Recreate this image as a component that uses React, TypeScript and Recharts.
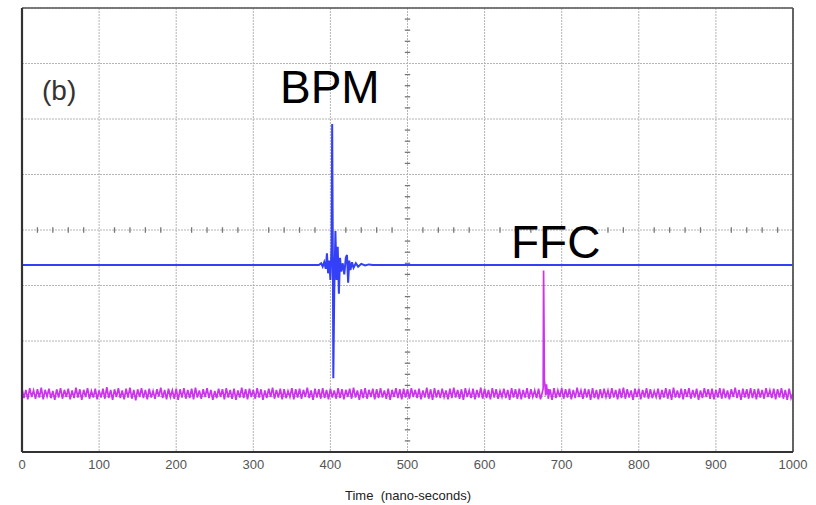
import {
  LineChart,
  Line,
  XAxis,
  YAxis,
  CartesianGrid,
  ReferenceLine,
} from "recharts";

// x axis in nano-seconds, y axis in screen divisions (-4..4)
const xTicks = [0, 100, 200, 300, 400, 500, 600, 700, 800, 900, 1000];
const yTicks = [-4, -3, -2, -1, 0, 1, 2, 3, 4];

// minor marks on the centre cross
const minorX = [
  20, 40, 60, 80, 120, 140, 160, 180, 220, 240, 260, 280, 320, 340, 360, 380,
  420, 440, 460, 480, 520, 540, 560, 580, 620, 640, 660, 680, 720, 740, 760,
  780, 820, 840, 860, 880, 920, 940, 960, 980,
];
const minorY = [
  -3.8, -3.6, -3.4, -3.2, -2.8, -2.6, -2.4, -2.2, -1.8, -1.6, -1.4, -1.2, -0.8,
  -0.6, -0.4, -0.2, 0.2, 0.4, 0.6, 0.8, 1.2, 1.4, 1.6, 1.8, 2.2, 2.4, 2.6, 2.8,
  3.2, 3.4, 3.6, 3.8,
];

// BPM trace (blue): flat with a ringing burst near 400 ns
const bpmTime = [
  0, 385, 388, 390, 392, 394, 395.5, 397, 398.5, 400, 401.5, 402.3, 403.2,
  403.8, 405, 406.5, 408, 409.5, 411, 412.5, 414, 416, 418, 420, 421.5, 423,
  424.5, 426, 428, 430, 433, 436, 440, 445, 450, 455, 1000,
];
const bpmValue = [
  -0.63, -0.63, -0.6, -0.66, -0.58, -0.7, -0.42, -0.78, -0.55, -0.9, -0.3,
  1.91, -0.5, -2.67, -1.1, -0.02, -0.9, -0.3, -1.15, -0.5, -0.75, -0.6, -0.8,
  -0.5, -0.45, -0.95, -0.55, -0.72, -0.58, -0.68, -0.6, -0.66, -0.61, -0.64,
  -0.62, -0.63, -0.63,
];

// FFC trace (magenta): noisy floor sampled every 2.5 ns
const ffcStep = 2.5;
const ffcNoise = [
  -2.86, -3.03, -2.88, -3.05, -2.85, -3.01, -2.89, -3.04, -2.87, -3.02, -2.84, -3.05, -2.88, -3.0, -2.86, -3.03, -2.9, -3.06, -2.87, -3.02,
  -2.85, -3.04, -2.88, -3.01, -2.86, -3.05, -2.89, -3.03, -2.84, -3.02, -2.87, -3.06, -2.88, -3.01, -2.85, -3.04, -2.9, -3.02, -2.86, -3.05,
  -2.89, -3.02, -2.86, -3.04, -2.83, -3.03, -2.88, -3.06, -2.87, -3.01, -2.85, -3.03, -2.89, -3.05, -2.86, -3.02, -2.84, -3.04, -2.88, -3.07,
  -2.87, -3.01, -2.85, -3.03, -2.88, -3.05, -2.86, -3.02, -2.9, -3.04, -2.87, -3.0, -2.84, -3.03, -2.88, -3.05, -2.86, -3.01, -2.89, -3.04,
  -2.86, -3.06, -2.87, -3.02, -2.85, -3.04, -2.88, -3.03, -2.86, -3.05, -2.84, -3.02, -2.89, -3.04, -2.87, -3.01, -2.85, -3.03, -2.88, -3.06,
  -2.9, -3.03, -2.86, -3.01, -2.87, -3.05, -2.85, -3.02, -2.88, -3.04, -2.86, -3.06, -2.89, -3.02, -2.84, -3.03, -2.87, -3.05, -2.86, -3.01,
  -2.88, -3.04, -2.85, -3.02, -2.87, -3.06, -2.89, -3.03, -2.86, -3.01, -2.84, -3.04, -2.88, -3.02, -2.86, -3.05, -2.87, -3.03, -2.9, -3.01,
  -2.85, -3.05, -2.87, -3.02, -2.86, -3.04, -2.88, -3.01, -2.84, -3.03, -2.89, -3.06, -2.86, -3.02, -2.87, -3.04, -2.85, -3.03, -2.88, -3.05,
  -2.86, -3.02, -2.89, -3.04, -2.85, -3.03, -2.87, -3.05, -2.88, -3.01, -2.86, -3.04, -2.84, -3.02, -2.89, -3.06, -2.87, -3.03, -2.85, -3.04,
  -2.88, -3.01, -2.86, -3.05, -2.87, -3.03, -2.85, -3.02, -2.89, -3.04, -2.86, -3.06, -2.88, -3.01, -2.85, -3.03, -2.87, -3.05, -2.86, -3.02,
  -2.87, -3.04, -2.85, -3.01, -2.88, -3.03, -2.86, -3.05, -2.89, -3.02, -2.84, -3.04, -2.87, -3.06, -2.85, -3.02, -2.88, -3.03, -2.86, -3.01,
  -2.89, -3.05, -2.86, -3.03, -2.84, -3.02, -2.88, -3.04, -2.87, -3.06, -2.85, -3.01, -2.89, -3.03, -2.86, -3.05, -2.88, -3.02, -2.84, -3.04,
  -2.86, -3.03, -2.88, -3.05, -2.85, -3.02, -2.87, -3.04, -2.9, -3.01, -2.86, -3.03, -2.88, -3.06, -2.85, -3.02, -2.87, -3.04, -2.86, -3.05,
  -2.88, -3.02, -2.85, -3.04, -2.87, -3.01, -2.89, -3.03, -2.86, -3.05, -2.84, -3.02, -2.88, -3.04, -2.87, -3.06, -2.85, -3.03, -2.89, -3.01,
  -2.85, -3.04, -2.87, -3.02, -2.86, -3.05, -2.88, -3.03, -2.84, -3.01, -2.89, -3.04, -2.86, -3.02, -2.87, -3.06, -2.85, -3.03, -2.88, -3.05,
  -2.87, -3.03, -2.86, -3.01, -2.89, -3.04, -2.85, -3.02, -2.88, -3.05, -2.86, -3.03, -2.84, -3.04, -2.87, -3.02, -2.89, -3.06, -2.86, -3.01,
  -2.86, -3.05, -2.88, -3.02, -2.85, -3.04, -2.87, -3.03, -2.9, -3.01, -2.86, -3.05, -2.88, -3.02, -2.85, -3.04, -2.87, -3.06, -2.84, -3.02,
  -2.89, -3.03, -2.86, -3.05, -2.87, -3.01, -2.85, -3.04, -2.88, -3.02, -2.86, -3.06, -2.89, -3.03, -2.85, -3.01, -2.87, -3.04, -2.86, -3.05,
  -2.88, -3.02, -2.85, -3.04, -2.86, -3.03, -2.89, -3.05, -2.87, -3.01, -2.84, -3.03, -2.88, -3.06, -2.86, -3.02, -2.87, -3.04, -2.85, -3.03,
  -2.87, -3.05, -2.86, -3.02, -2.88, -3.04, -2.85, -3.01, -2.89, -3.03, -2.86, -3.05, -2.87, -3.02, -2.85, -3.04, -2.88, -3.06, -2.86, -3.03,
  -2.94,
];
// the FFC pulse near 677 ns
const ffcPulseTime = [675, 676.0, 676.5, 677.0, 677.5, 678.3, 679.2, 680.3, 681.3, 682.4];
const ffcPulseValue = [-2.92, -2.85, -0.73, -1.6, -2.7, -2.8, -2.98, -2.78, -2.96, -2.86];

const bpmData = bpmTime.map((t, i) => ({ t, v: bpmValue[i] }));
const ffcData = [
  ...ffcNoise
    .map((v, i) => ({ t: i * ffcStep, v }))
    .filter((p) => p.t < 675 || p.t > 682.4),
  ...ffcPulseTime.map((t, i) => ({ t, v: ffcPulseValue[i] })),
].sort((a, b) => a.t - b.t);

const textFont = "'Liberation Sans', Arial, sans-serif";

export default function App() {
  return (
    <div
      style={{
        position: "absolute",
        left: 0,
        top: 0,
        width: 816,
        height: 505,
        background: "#fff",
        fontFamily: textFont,
      }}
    >
      <LineChart
        width={816}
        height={505}
        margin={{ top: 8, right: 23, left: 22, bottom: 23 }}
      >
        <CartesianGrid
          stroke="#b4b4b4"
          strokeDasharray="2 1"
          horizontalValues={yTicks}
          verticalValues={xTicks}
        />
        <XAxis
          dataKey="t"
          type="number"
          domain={[0, 1000]}
          ticks={xTicks}
          height={30}
          axisLine={false}
          tickLine={false}
          tickSize={0}
          tickMargin={8}
          tick={{ fill: "#555", fontSize: 13, fontFamily: textFont }}
          allowDataOverflow
        />
        <YAxis
          dataKey="v"
          type="number"
          domain={[-4, 4]}
          ticks={yTicks}
          hide
          allowDataOverflow
        />

        {minorX.map((x) => (
          <ReferenceLine
            key={`mx-${x}`}
            segment={[
              { x, y: -0.05 },
              { x, y: 0.05 },
            ]}
            stroke="#777"
            strokeWidth={1.3}
          />
        ))}
        {minorY.map((y) => (
          <ReferenceLine
            key={`my-${y}`}
            segment={[
              { x: 496.5, y },
              { x: 503.5, y },
            ]}
            stroke="#777"
            strokeWidth={1.3}
          />
        ))}

        <Line
          data={ffcData}
          dataKey="v"
          type="linear"
          stroke="#cc33ee"
          strokeWidth={1.7}
          dot={false}
          isAnimationActive={false}
        />
        <Line
          data={bpmData}
          dataKey="v"
          type="linear"
          stroke="#3340f5"
          strokeWidth={2}
          dot={false}
          isAnimationActive={false}
        />

        {/* frame */}
        <ReferenceLine y={4} stroke="#555" strokeWidth={1.5} />
        <ReferenceLine x={1000} stroke="#555" strokeWidth={1.8} />
        <ReferenceLine x={0} stroke="#333" strokeWidth={2.2} />
        <ReferenceLine y={-4} stroke="#333" strokeWidth={2.2} />
      </LineChart>

      <div
        style={{
          position: "absolute",
          left: 42,
          top: 77,
          fontSize: 28,
          lineHeight: 1,
          color: "#333",
        }}
      >
        (b)
      </div>
      <div
        style={{
          position: "absolute",
          left: 280,
          top: 64,
          fontSize: 46,
          lineHeight: 1,
          color: "#000",
        }}
      >
        BPM
      </div>
      <div
        style={{
          position: "absolute",
          left: 511,
          top: 219,
          fontSize: 46,
          lineHeight: 1,
          color: "#000",
        }}
      >
        FFC
      </div>
      <div
        style={{
          position: "absolute",
          left: 345,
          top: 489,
          fontSize: 13,
          lineHeight: 1,
          color: "#222",
          whiteSpace: "pre",
        }}
      >
        Time  (nano-seconds)
      </div>
    </div>
  );
}
